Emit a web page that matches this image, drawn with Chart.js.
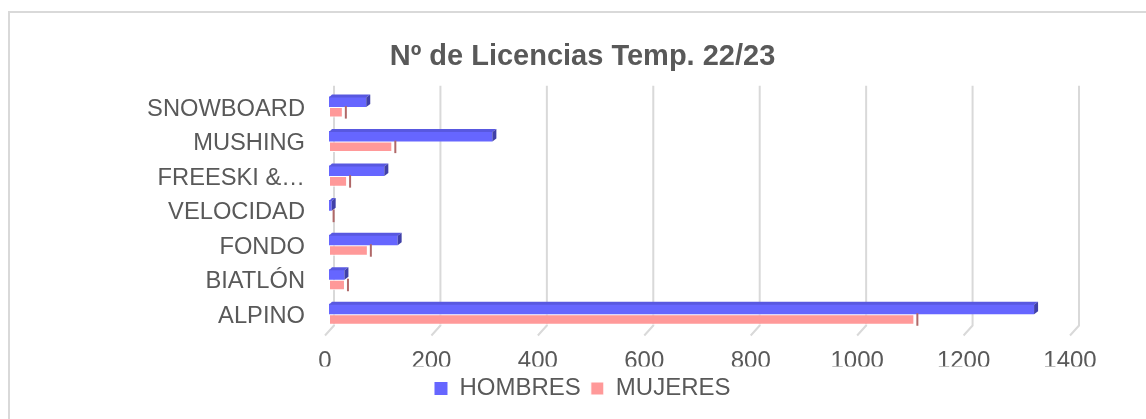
<!DOCTYPE html>
<html>
<head>
<meta charset="utf-8">
<script src="https://cdn.jsdelivr.net/npm/chart.js@4.4.0/dist/chart.umd.min.js"></script>
<style>
  html, body { margin: 0; padding: 0; background: #fff; overflow: hidden; }
  #wrap { position: relative; width: 1146px; height: 419px; overflow: hidden; }
  #frame { position: absolute; left: 8px; top: 11px; width: 1200px; height: 500px; border: 2px solid #d9d9d9; }
  #chart { position: absolute; left: 0; top: 0; }
</style>
</head>
<body>
<div id="wrap">
  <div id="frame"></div>
  <canvas id="chart" width="1146" height="419"></canvas>
</div>
<script>
// data
const categories = ['SNOWBOARD', 'MUSHING', 'FREESKI &…', 'VELOCIDAD', 'FONDO', 'BIATLÓN', 'ALPINO'];
const hombres = [70, 307, 104, 5, 129, 29, 1325];
const mujeres = [26, 119, 34, 3, 73, 30, 1100];
const xTicks = [0, 200, 400, 600, 800, 1000, 1200, 1400];

const textColor = '#595959';
const fontFamily = '"Liberation Sans", Arial, sans-serif';

// back wall gridlines with the little slanted floor part
const wallGrid = {
    id: 'wallGrid',
    beforeDatasetsDraw(chart) {
        const {ctx, chartArea, scales: {x}} = chart;
        ctx.save();
        ctx.strokeStyle = '#d9d9d9';
        ctx.lineWidth = 2;
        x.ticks.forEach(t => {
            const px = x.getPixelForValue(t.value);
            ctx.beginPath();
            ctx.moveTo(px + 5, chartArea.top - 4);
            ctx.lineTo(px + 5, chartArea.bottom - 6);
            ctx.lineTo(px - 4, chartArea.bottom + 4);
            ctx.stroke();
        });
        ctx.restore();
    }
};

// fake 3D: top face and side face on each bar
const barDepth = {
    id: 'barDepth',
    afterDatasetsDraw(chart) {
        const ctx = chart.ctx;
        chart.data.datasets.forEach((ds, i) => {
            const meta = chart.getDatasetMeta(i);
            meta.data.forEach(bar => {
                const {x, y, base, height} = bar.getProps(['x', 'y', 'base', 'height'], true);
                const top = y - height / 2, bot = y + height / 2;
                ctx.save();
                if (i === 0) {
                    ctx.fillStyle = '#5858e0';
                    ctx.beginPath();
                    ctx.moveTo(base, top + 1);
                    ctx.lineTo(base + 3, top - 2);
                    ctx.lineTo(x + 4, top - 2);
                    ctx.lineTo(x, top + 1);
                    ctx.fill();
                    ctx.fillStyle = '#4040a8';
                    ctx.beginPath();
                    ctx.moveTo(x, top + 1);
                    ctx.lineTo(x + 4, top - 2);
                    ctx.lineTo(x + 4, bot - 3);
                    ctx.lineTo(x, bot);
                    ctx.fill();
                } else {
                    ctx.strokeStyle = '#b06868';
                    ctx.lineWidth = 2;
                    ctx.beginPath();
                    ctx.moveTo(x + 3, top - 1);
                    ctx.lineTo(x + 3, bot + 1);
                    ctx.stroke();
                }
                ctx.restore();
            });
        });
    }
};

new Chart(document.getElementById('chart'), {
    type: 'bar',
    data: {
        labels: categories,
        datasets: [{
            label: 'HOMBRES',
            data: hombres,
            backgroundColor: '#6666ff',
            borderWidth: 0,
            categoryPercentage: 0.61,
            barPercentage: 1.0
        }, {
            label: 'MUJERES',
            data: mujeres,
            backgroundColor: '#ff9999',
            borderColor: '#ffffff',
            borderWidth: 1,
            borderSkipped: false,
            categoryPercentage: 0.61,
            barPercentage: 1.0
        }]
    },
    options: {
        indexAxis: 'y',
        responsive: false,
        animation: false,
        devicePixelRatio: 1,
        layout: {
            padding: {left: 19, right: 0, top: 0, bottom: 8.5}
        },
        scales: {
            x: {
                type: 'linear',
                min: xTicks[0],
                max: xTicks[xTicks.length - 1],
                ticks: {
                    stepSize: xTicks[1] - xTicks[0],
                    color: textColor,
                    font: {family: fontFamily, size: 24},
                    padding: 15,
                    labelOffset: -4,
                    callback: v => String(v)
                },
                grid: {display: false, drawTicks: false},
                border: {display: false},
                afterFit: s => { s.height = 35; }
            },
            y: {
                ticks: {
                    color: textColor,
                    font: {family: fontFamily, size: 23.7},
                    padding: 24,
                    labelOffset: 2
                },
                grid: {display: false, drawTicks: false},
                border: {display: false},
                afterFit: s => { s.width = 310; }
            },
            yRight: {
                type: 'category',
                position: 'right',
                ticks: {display: false},
                grid: {display: false, drawTicks: false},
                border: {display: false},
                afterFit: s => { s.width = 72; }
            }
        },
        plugins: {
            title: {
                display: true,
                text: 'Nº de Licencias Temp. 22/23',
                color: textColor,
                font: {family: fontFamily, size: 29, weight: 'bold', lineHeight: 1.2},
                padding: {top: 40, bottom: 15}
            },
            legend: {
                position: 'bottom',
                labels: {
                    color: textColor,
                    font: {family: fontFamily, size: 24},
                    boxWidth: 13,
                    boxHeight: 13,
                    padding: 10
                }
            },
            tooltip: {enabled: false}
        }
    },
    plugins: [wallGrid, barDepth]
});
</script>
</body>
</html>
